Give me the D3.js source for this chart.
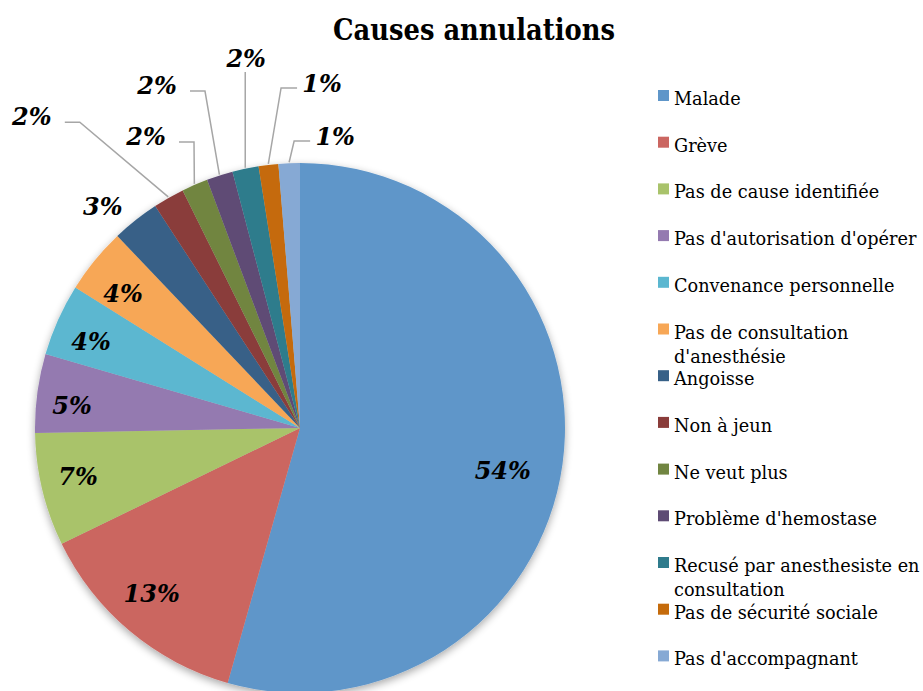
<!DOCTYPE html>
<html><head><meta charset="utf-8">
<script src="https://cdn.jsdelivr.net/npm/d3@7"></script>
<style>body{margin:0;background:#fff;} svg{display:block}</style>
</head><body>
<svg id="chart" width="923" height="691"></svg>
<script>
const title = "Causes annulations";
const categories = ["Malade","Grève","Pas de cause identifiée","Pas d'autorisation d'opérer","Convenance personnelle","Pas de consultation d'anesthésie","Angoisse","Non à jeun","Ne veut plus","Problème d'hemostase","Recusé par anesthesiste en consultation","Pas de sécurité sociale","Pas d'accompagnant"];
const values = [54.4,13.4,6.9,4.8,4.4,4.0,2.9,1.9,1.6,1.6,1.6,1.2,1.3];
const colors = ["#5F96C9","#CB6661","#A9C36B","#947AB0","#5BB7D0","#F7A756","#376087","#8A3C3A","#718541","#5E4B74","#2F7B8C","#C56B0B","#86A9D4"];
const labelRadius = [0.782,0.839,0.858,0.865,0.853,0.84,1.12,1.552,1.246,1.402,1.411,1.305,1.11];
const labelShift = [4.0,1.9,1.1,-1.8,-1.7,-1.9,-3.3,-11.0,-4.4,-5.0,3.6,10.5,9.2];
const leaderSide = [null,null,null,null,null,null,null,"right","right","right","below","left","left"];

const svg = d3.select("#chart");
const cx = 300, cy = 428, r = 265;

const defs = svg.append("defs");
const f = defs.append("filter").attr("id","sh").attr("x","-20%").attr("y","-20%").attr("width","140%").attr("height","140%");
f.append("feGaussianBlur").attr("in","SourceAlpha").attr("stdDeviation",4).attr("result","b");
f.append("feOffset").attr("in","b").attr("dy",3).attr("result","o");
f.append("feComponentTransfer").attr("in","o").attr("result","c").append("feFuncA").attr("type","linear").attr("slope",0.35);
const fm = f.append("feMerge"); fm.append("feMergeNode").attr("in","c"); fm.append("feMergeNode").attr("in","SourceGraphic");

svg.append("text").attr("x",474).attr("y",40).attr("text-anchor","middle")
  .attr("font-family","'DejaVu Serif', serif").attr("font-weight","bold").attr("font-size",30)
  .attr("textLength",282).attr("lengthAdjust","spacingAndGlyphs").attr("fill","#000").text(title);

const data = categories.map((c,i)=>({cat:c,value:values[i],color:colors[i],i}));
const total = d3.sum(values);
const pie = d3.pie().value(d=>d.value).sort(null);
const arcs = pie(data);
const arc = d3.arc().innerRadius(0).outerRadius(r);

const g = svg.append("g").attr("transform",`translate(${cx},${cy})`);
g.append("g").attr("filter","url(#sh)").selectAll("path").data(arcs).enter().append("path")
  .attr("d",arc).attr("fill",d=>d.data.color);

const polar = (a,R)=>[R*Math.sin(a), -R*Math.cos(a)];

arcs.forEach((d,i)=>{
  const side = leaderSide[i];
  if(!side) return;
  const mid = (d.startAngle+d.endAngle)/2;
  const [lx,ly] = polar(mid + labelShift[i]*Math.PI/180, labelRadius[i]*r);
  const p = polar(mid, r+1);
  let pts;
  if(side==="right") pts=[[lx+33,ly+6],[lx+48,ly+6],p];
  else if(side==="left") pts=[[lx-25,ly+5],[lx-41,ly+5],p];
  else pts=[[p[0],ly+14],p];
  g.append("path").attr("d",d3.line()(pts)).attr("fill","none").attr("stroke","#A6A6A6").attr("stroke-width",1.5);
});

g.selectAll("text.lbl").data(arcs).enter().append("text").attr("class","lbl")
  .attr("transform",(d,i)=>{const mid=(d.startAngle+d.endAngle)/2+labelShift[i]*Math.PI/180; const p=polar(mid,labelRadius[i]*r); return `translate(${p[0]},${p[1]})`;})
  .attr("text-anchor","middle").attr("dy","0.36em")
  .attr("font-family","'DejaVu Serif', serif").attr("font-weight","bold").attr("font-style","italic").attr("font-size",24)
  .attr("fill","#000").text(d=>Math.round(d.data.value/total*100)+"%");

const lg = svg.append("g");
const rowH = 46.7, base0 = 105, tx = 674, maxW = 250;
data.forEach((d,i)=>{
  const by = base0 + i*rowH;
  lg.append("rect").attr("x",658).attr("y",by-15).attr("width",11).attr("height",11).attr("fill",d.color);
  const t = lg.append("text").attr("x",tx).attr("y",by).attr("font-family","'DejaVu Serif', serif").attr("font-size",17.7).attr("fill","#000");
  const words = d.cat.split(" ");
  let line = [], ts = t.append("tspan").attr("x",tx).attr("y",by), ln=0;
  words.forEach(w=>{
    line.push(w); ts.text(line.join(" "));
    if(ts.node().getComputedTextLength()>maxW && line.length>1){
      line.pop(); ts.text(line.join(" ")); line=[w]; ln++;
      ts = t.append("tspan").attr("x",tx).attr("y",by+ln*24).text(w);
    }
  });
});
</script>
</body></html>
